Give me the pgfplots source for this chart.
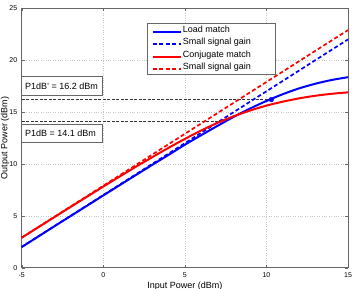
\documentclass[border=0pt]{standalone}
\usepackage{fontspec}
\setmainfont{Liberation Sans}
\usepackage{pgfplots}
\pgfplotsset{compat=1.18}
\begin{document}
\begin{tikzpicture}
\begin{axis}[
  width=326.3pt, height=259.4pt, scale only axis,
  xmin=-5, xmax=15, ymin=0, ymax=25,
  xtick={-5,0,5,10,15}, ytick={0,5,10,15,20,25},
  grid=major, grid style={dotted, gray!45, line width=0.4pt},
  tick align=inside, major tick length=3pt,
  axis line style={black!60},
  tick style={black!60},
  ticklabel style={font=\fontsize{7}{8}\selectfont},
  xticklabel style={yshift=-1pt},
  yticklabel style={xshift=-1pt},
  /pgf/number format/assume math mode=true,
  xlabel={Input Power (dBm)}, ylabel={Output Power (dBm)},
  xlabel style={at={(axis description cs:0.5,0)}, anchor=base, yshift=-20.8pt, font=\fontsize{9}{10}\selectfont},
  ylabel style={at={(axis description cs:-0.0512,0.5)}, anchor=center, font=\fontsize{9}{10}\selectfont},
  legend style={at={(axis cs:2.72,23.55)}, anchor=north west, draw=none, fill=none,
    font=\fontsize{9}{10}\selectfont, inner xsep=4pt, inner ysep=1.8pt, row sep=0pt,
    nodes={inner xsep=1pt, inner ysep=0pt, text height=7pt, text depth=5.5pt}},
  legend cell align=left,
  legend image code/.code={\draw[#1] (0pt,0pt) -- (28pt,0pt);},
  clip=false,
]
% legend box and annotation boxes
\draw[black!60, fill=white] (axis cs:2.72,18.67) rectangle (axis cs:10.53,23.55);
\draw[black!60, fill=white] (axis cs:-5,16.58) rectangle (axis cs:-0.04,18.41);
\draw[black!60, fill=white] (axis cs:-5,12.14) rectangle (axis cs:-0.04,13.85);
\node[anchor=west, inner sep=0pt, font=\fontsize{9}{10}\selectfont] at (axis cs:-4.8,17.5) {P1dB' = 16.2 dBm};
\node[anchor=west, inner sep=0pt, font=\fontsize{9}{10}\selectfont] at (axis cs:-4.8,13.0) {P1dB = 14.1 dBm};

% P1dB reference lines
\addplot[black!80, line width=0.6pt, dash pattern=on 3pt off 1.5pt, forget plot] coordinates {(-5,16.2) (10.3,16.2)};
\addplot[black!80, line width=0.6pt, dash pattern=on 3pt off 1.5pt, forget plot] coordinates {(-5,14.1) (7.3,14.1)};

% Load match
\addplot[blue, line width=2pt, smooth] coordinates {
(-5,1.99) (-4,2.99) (-3,3.99) (-2,4.98) (-1,5.97) (0,6.96) (1,7.95) (2,8.93) (3,9.91)
(4,10.87) (5,11.85) (6,12.77) (7,13.67) (8,14.54) (9,15.34) (10,16.07) (11,16.72)
(12,17.28) (13,17.73) (14,18.09) (15,18.36)};
\addlegendentry{Load match}
\addplot[blue, line width=1.7pt, dash pattern=on 4pt off 2.5pt] coordinates {(-5,2) (15,22)};
\addlegendentry{Small signal gain}
% Conjugate match
\addplot[red, line width=2pt, smooth] coordinates {
(-5,2.89) (-4,3.88) (-3,4.87) (-2,5.86) (-1,6.84) (0,7.82) (1,8.78) (2,9.73) (3,10.65)
(4,11.55) (5,12.41) (6,13.22) (7,13.96) (8,14.60) (9,15.15) (10,15.62) (11,16.0)
(12,16.32) (13,16.57) (14,16.76) (15,16.9)};
\addlegendentry{Conjugate match}
\addplot[red, line width=1.7pt, dash pattern=on 4pt off 2.5pt] coordinates {(-5,2.9) (15,22.9)};
\addlegendentry{Small signal gain}

% P1dB marker
\addplot[blue, only marks, mark=*, mark size=2.3pt, forget plot] coordinates {(10.3,16.2)};

\coordinate (SW) at (rel axis cs:0,0);
\coordinate (NE) at (rel axis cs:1,1);
\end{axis}
\pgfresetboundingbox
\path[use as bounding box] ([shift={(-21.7pt,-21.3pt)}]SW) rectangle ([shift={(6pt,8.3pt)}]NE);
\end{tikzpicture}
\end{document}
